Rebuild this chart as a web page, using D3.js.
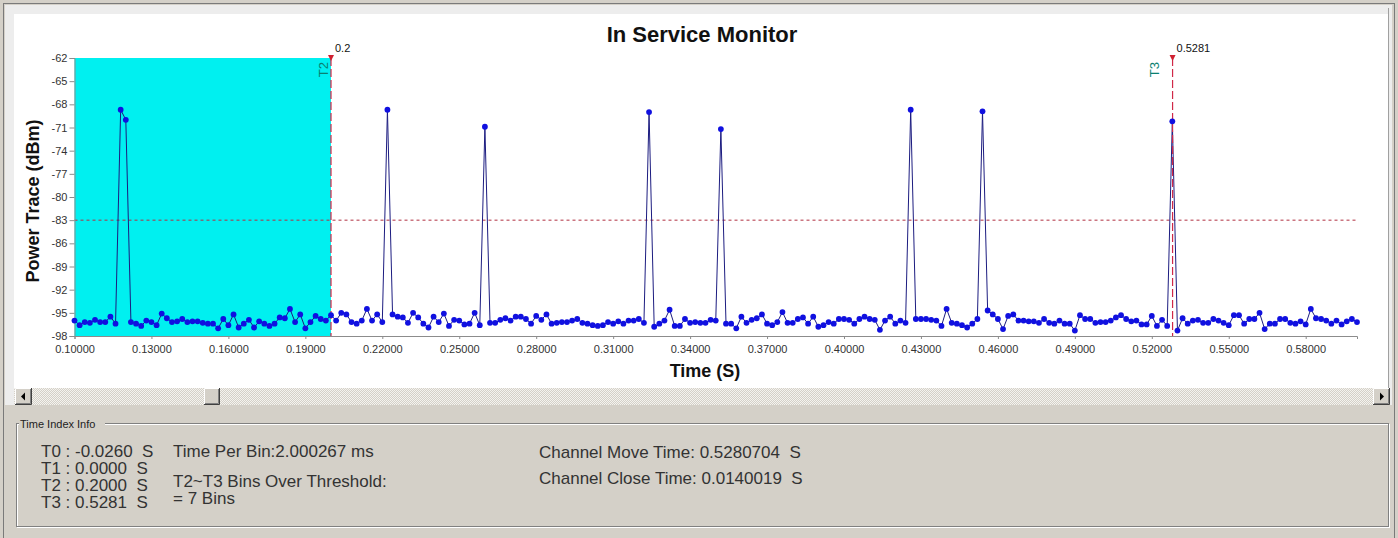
<!DOCTYPE html>
<html>
<head>
<meta charset="utf-8">
<script src="https://cdn.jsdelivr.net/npm/d3@7/dist/d3.min.js"></script>
<style>
  body { margin: 0; background: #d4d0c8; }
  svg { display: block; font-family: "Liberation Sans", Arial, sans-serif; }
</style>
</head>
<body>
<svg id="chart" width="1398" height="538"></svg>
<script>
// bins start at 0.100 s, one every 2 ms (Time Per Bin)
const binStart = 0.1;
const binWidth = 0.002;

// power trace (dBm), one value per bin
const powerTrace = [
  -96.0, -96.6, -96.2, -96.3, -95.9, -96.2, -96.2, -95.5, -96.4, -68.7,
  -70.0, -96.2, -96.4, -96.7, -96.0, -96.2, -96.6, -95.1, -95.7, -96.2,
  -96.1, -95.8, -96.2, -96.1, -96.1, -96.3, -96.4, -96.4, -97.0, -95.8,
  -96.6, -95.2, -96.9, -96.4, -95.9, -96.9, -96.1, -96.4, -96.7, -96.4,
  -95.6, -95.7, -94.5, -96.2, -95.2, -97.0, -96.2, -95.4, -95.8, -96.0,
  -95.3, -96.0, -95.0, -95.2, -96.2, -96.4, -96.0, -94.5, -96.0, -95.2,
  -96.2, -68.7, -95.2, -95.5, -95.6, -96.3, -95.0, -95.6, -96.4, -96.9,
  -95.5, -96.2, -95.1, -96.7, -95.9, -96.0, -96.5, -96.4, -95.0, -96.6,
  -70.9, -96.3, -96.3, -95.9, -95.7, -96.0, -95.5, -95.5, -95.8, -96.4,
  -95.4, -95.9, -95.2, -96.4, -96.3, -96.2, -96.2, -96.0, -95.8, -96.3,
  -96.4, -96.6, -96.7, -96.6, -96.2, -96.4, -96.1, -96.4, -96.0, -96.0,
  -95.8, -96.3, -69.0, -96.8, -96.4, -96.0, -94.6, -96.7, -96.7, -95.8,
  -96.3, -96.2, -96.3, -96.3, -95.9, -96.0, -71.2, -96.4, -96.4, -97.0,
  -95.5, -96.3, -95.9, -95.7, -95.2, -96.4, -96.6, -96.2, -94.9, -96.3,
  -96.3, -95.8, -95.6, -96.4, -95.5, -96.8, -96.6, -96.2, -96.4, -95.8,
  -95.8, -95.9, -96.4, -95.8, -95.5, -95.8, -95.9, -97.2, -96.0, -95.5,
  -96.4, -96.0, -96.3, -68.7, -95.8, -95.8, -95.8, -95.9, -96.0, -96.7,
  -94.5, -96.3, -96.4, -96.6, -96.9, -96.4, -95.8, -68.9, -94.7, -95.2,
  -95.8, -97.1, -95.4, -95.2, -96.0, -96.0, -96.1, -96.1, -96.3, -95.8,
  -96.3, -96.4, -96.0, -96.4, -96.4, -97.3, -95.3, -95.8, -95.8, -96.3,
  -96.2, -96.2, -96.0, -95.6, -95.3, -95.8, -96.1, -96.0, -96.5, -96.5,
  -95.4, -96.7, -95.9, -96.7, -70.2, -97.3, -95.7, -96.4, -96.0, -95.9,
  -96.3, -96.3, -95.8, -96.0, -96.3, -96.6, -95.3, -95.3, -96.4, -95.8,
  -95.8, -95.0, -97.1, -96.4, -96.4, -95.8, -95.8, -96.3, -96.4, -96.1,
  -96.5, -94.5, -95.7, -95.8, -96.0, -96.4, -96.0, -96.5, -96.1, -95.8,
  -96.2
];

const yTicks = [-62, -65, -68, -71, -74, -77, -80, -83, -86, -89, -92, -95, -98];
const xTicks = [0.10, 0.13, 0.16, 0.19, 0.22, 0.25, 0.28, 0.31, 0.34, 0.37, 0.40, 0.43, 0.46, 0.49, 0.52, 0.55, 0.58];
const xDomain = [0.10, 0.60];
const yDomain = [-98, -62];
const threshold = -83;
const cursorNames = ['T2', 'T3'];
const cursorTimes = [0.2, 0.5281];
const cursorLabels = ['0.2', '0.5281'];
const shadeRange = [0.10, 0.2];

const infoTimes = ['T0 : -0.0260  S', 'T1 : 0.0000  S', 'T2 : 0.2000  S', 'T3 : 0.5281  S'];
const infoBins = ['Time Per Bin:2.000267 ms', 'T2~T3 Bins Over Threshold:', '= 7 Bins'];
const infoChannel = ['Channel Move Time: 0.5280704  S', 'Channel Close Time: 0.0140019  S'];

const svg = d3.select('#chart');
const W = 1398, H = 538;

// ---- window chrome ----
const defs = svg.append('defs');
const pat = defs.append('pattern').attr('id', 'dither')
  .attr('width', 2).attr('height', 2).attr('patternUnits', 'userSpaceOnUse');
pat.append('rect').attr('width', 2).attr('height', 2).attr('fill', '#d4d0c8');
pat.append('rect').attr('width', 1).attr('height', 1).attr('fill', '#f4f3ef');
pat.append('rect').attr('x', 1).attr('y', 1).attr('width', 1).attr('height', 1).attr('fill', '#f4f3ef');

svg.append('rect').attr('width', W).attr('height', H).attr('fill', '#d4d0c8');
svg.append('rect').attr('x', 3.5).attr('y', 3.5).attr('width', 1391).attr('height', 540)
  .attr('fill', 'none').attr('stroke', '#7a7a7a');
svg.append('rect').attr('x', 5).attr('y', 5).attr('width', 1387).attr('height', 400)
  .attr('fill', '#ededed');
svg.append('rect').attr('x', 14).attr('y', 14).attr('width', 1374).attr('height', 374)
  .attr('fill', '#ffffff');
svg.append('line').attr('x1', 1388.5).attr('x2', 1388.5).attr('y1', 8).attr('y2', 388)
  .attr('stroke', '#a0a0a0');

// ---- plot ----
const x = d3.scaleLinear().domain(xDomain).range([74.5, 1357]);
const y = d3.scaleLinear().domain(yDomain).range([336, 58]);
const tAt = i => binStart + i * binWidth;

const plot = svg.append('g');

plot.append('rect')
  .attr('x', x(shadeRange[0])).attr('y', y(yDomain[1]))
  .attr('width', x(shadeRange[1]) - x(shadeRange[0]))
  .attr('height', y(yDomain[0]) - y(yDomain[1]))
  .attr('fill', '#00f0f0');

// threshold
plot.append('line')
  .attr('x1', x(xDomain[0])).attr('x2', x(xDomain[1]))
  .attr('y1', y(threshold)).attr('y2', y(threshold))
  .attr('stroke', '#b03040').attr('stroke-width', 1).attr('stroke-dasharray', '3,3');

// axes
const yAxis = plot.append('g').attr('transform', `translate(${x(xDomain[0])},0)`)
  .call(d3.axisLeft(y).tickValues(yTicks).tickSize(5).tickPadding(2).tickFormat(d => String(d)));
const xAxis = plot.append('g').attr('transform', `translate(0,${y(yDomain[0])})`)
  .call(d3.axisBottom(x).tickValues(xTicks).tickSize(3).tickPadding(6).tickFormat(d3.format('.5f')));
[yAxis, xAxis].forEach(a => {
  a.select('.domain').attr('stroke', '#8c8c8c');
  a.selectAll('.tick line').attr('stroke', '#8c8c8c');
  a.selectAll('.tick text').attr('fill', '#333').style('font-size', '11px')
    .style('font-family', '"Liberation Sans", Arial, sans-serif');
});

// trace
const line = d3.line().x((d, i) => x(tAt(i))).y(d => y(d));
plot.append('path').datum(powerTrace)
  .attr('d', line).attr('fill', 'none')
  .attr('stroke', '#1c1c80').attr('stroke-width', 1);

// cursors
const labelGap = [3, 14];
cursorTimes.forEach((t, k) => {
  const cx = x(t);
  plot.append('line')
    .attr('x1', cx).attr('x2', cx).attr('y1', y(yDomain[1])).attr('y2', y(yDomain[0]))
    .attr('stroke', '#d02848').attr('stroke-width', 1.2).attr('stroke-dasharray', '8,3');
  plot.append('path')
    .attr('d', `M${cx - 3},${y(yDomain[1]) - 3}L${cx + 3},${y(yDomain[1]) - 3}L${cx},${y(yDomain[1]) + 3}Z`)
    .attr('fill', '#d02030');
  plot.append('text')
    .attr('x', cx + 4).attr('y', y(yDomain[1]) - 6)
    .attr('fill', '#111').style('font-size', '11px')
    .text(cursorLabels[k]);
  plot.append('text')
    .attr('transform', `translate(${cx - labelGap[k]},${y(yDomain[1]) + 4}) rotate(-90)`)
    .attr('text-anchor', 'end')
    .attr('fill', '#0a7f70').style('font-size', '13px')
    .text(cursorNames[k]);
});

plot.selectAll('circle.pt').data(powerTrace).join('circle')
  .attr('class', 'pt')
  .attr('cx', (d, i) => x(tAt(i))).attr('cy', d => y(d))
  .attr('r', 2.9).attr('fill', '#1010e0');

// titles
svg.append('text').attr('x', 702).attr('y', 42).attr('text-anchor', 'middle')
  .style('font-size', '22px').style('font-weight', 'bold').attr('fill', '#111')
  .text('In Service Monitor');
svg.append('text').attr('transform', 'translate(39,201) rotate(-90)').attr('text-anchor', 'middle')
  .style('font-size', '18px').style('font-weight', 'bold').attr('fill', '#111')
  .text('Power Trace (dBm)');
svg.append('text').attr('x', 705).attr('y', 377).attr('text-anchor', 'middle')
  .style('font-size', '18px').style('font-weight', 'bold').attr('fill', '#111')
  .text('Time (S)');

// ---- scrollbar ----
const sb = svg.append('g');
sb.append('rect').attr('x', 14).attr('y', 388).attr('width', 1376).attr('height', 17).attr('fill', 'url(#dither)');
function button(bx, by, bw, bh) {
  sb.append('rect').attr('x', bx).attr('y', by).attr('width', bw).attr('height', bh).attr('fill', '#d4d0c8');
  sb.append('path').attr('d', `M${bx + 0.5},${by + bh}V${by + 0.5}H${bx + bw}`).attr('stroke', '#ffffff').attr('fill', 'none');
  sb.append('path').attr('d', `M${bx},${by + bh - 0.5}H${bx + bw - 0.5}V${by}`).attr('stroke', '#404040').attr('fill', 'none');
  sb.append('path').attr('d', `M${bx + 1},${by + bh - 1.5}H${bx + bw - 1.5}V${by + 1}`).attr('stroke', '#808080').attr('fill', 'none');
}
button(15, 388, 17, 17);
button(1373, 388, 17, 17);
button(204, 388, 16, 17);
sb.append('path').attr('d', 'M21,396.5L25,392.5V400.5Z').attr('fill', '#000');
sb.append('path').attr('d', 'M1384,396.5L1380,392.5V400.5Z').attr('fill', '#000');

// ---- info group box ----
const gb = svg.append('g');
gb.append('rect').attr('x', 17.5).attr('y', 424.5).attr('width', 1372).attr('height', 103)
  .attr('fill', 'none').attr('stroke', '#ffffff');
gb.append('rect').attr('x', 16.5).attr('y', 423.5).attr('width', 1372).attr('height', 103)
  .attr('fill', 'none').attr('stroke', '#808080');
gb.append('rect').attr('x', 19).attr('y', 417).attr('width', 86).attr('height', 13).attr('fill', '#d4d0c8');
gb.append('text').attr('x', 20).attr('y', 428).style('font-size', '11px').attr('fill', '#222')
  .text('Time Index Info');

const infoFont = '17px';
gb.selectAll('text.t').data(infoTimes).join('text').attr('class', 't')
  .attr('x', 41).attr('y', (d, i) => 457 + i * 17)
  .style('font-size', infoFont).style('white-space', 'pre').attr('fill', '#333')
  .text(d => d);
const binRows = [457, 487, 504];
gb.selectAll('text.b').data(infoBins).join('text').attr('class', 'b')
  .attr('x', 173).attr('y', (d, i) => binRows[i])
  .style('font-size', infoFont).style('white-space', 'pre').attr('fill', '#333')
  .text(d => d);
gb.selectAll('text.c').data(infoChannel).join('text').attr('class', 'c')
  .attr('x', 539).attr('y', (d, i) => 458 + i * 26)
  .style('font-size', infoFont).style('white-space', 'pre').attr('fill', '#333')
  .text(d => d);
</script>
</body>
</html>
